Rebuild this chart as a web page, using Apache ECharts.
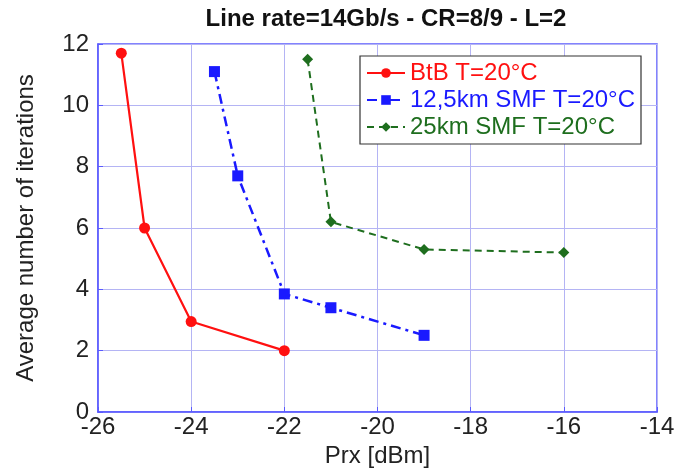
<!DOCTYPE html>
<html><head><meta charset="utf-8">
<script src="https://cdn.jsdelivr.net/npm/echarts@6/dist/echarts.min.js"></script>
<style>html,body{margin:0;padding:0;background:#fff}#c{width:688px;height:470px}</style>
</head><body><div id="c"></div>
<script>
const btbX = [-25.5, -25, -24, -22];
const btbY = [11.7, 6.0, 2.95, 2.0];
const smf12X = [-23.5, -23, -22, -21, -19];
const smf12Y = [11.1, 7.7, 3.85, 3.4, 2.5];
const smf25X = [-21.5, -21, -19, -16];
const smf25Y = [11.5, 6.2, 5.3, 5.2];
const names = ['BtB T=20°C', '12,5km SMF T=20°C', '25km SMF T=20°C'];
const colors = ['#ff1010', '#1a1aff', '#1e6e1e'];
const pair = (xs, ys) => xs.map((x, i) => [x, ys[i]]);
const FONT = 'Liberation Sans, Arial, sans-serif';
const FS = 24;
const chart = echarts.init(document.getElementById('c'), null, {renderer: 'canvas'});
chart.setOption({
  animation: false,
  title: {text: 'Line rate=14Gb/s - CR=8/9 - L=2', left: 381, textAlign: 'center', top: 2,
    textStyle: {fontFamily: FONT, fontSize: 24, fontWeight: 'bold', color: '#111'}},
  grid: {left: 98, right: 31, top: 44, bottom: 58, show: true, borderColor: '#5a5aff', borderWidth: 1.5,
    outerBoundsMode: 'none', containLabel: false},
  legend: {orient: 'vertical', left: 360, top: 56, width: 285, height: 92,
    backgroundColor: '#fff', borderColor: '#333', borderWidth: 1.2,
    padding: [5, 6, 5, 6], itemGap: 3, itemWidth: 38, itemHeight: 12,
    textStyle: {fontFamily: FONT, fontSize: FS},
    data: names.map((n, i) => ({name: n, textStyle: {color: colors[i]}}))},
  xAxis: {type: 'value', min: -26, max: -14, interval: 2,
    name: 'Prx [dBm]', nameLocation: 'middle', nameGap: 30,
    nameTextStyle: {fontFamily: FONT, fontSize: FS, color: '#222'},
    axisLine: {show: true, lineStyle: {color: '#5a5aff', width: 1.5}},
    axisTick: {show: true, inside: true, length: 5, lineStyle: {color: '#5a5aff'}},
    axisLabel: {fontFamily: FONT, fontSize: FS, color: '#222', margin: 3},
    splitLine: {show: true, lineStyle: {color: '#b4b4f4', width: 1}}},
  yAxis: {type: 'value', min: 0, max: 12, interval: 2,
    name: 'Average number of iterations', nameLocation: 'middle', nameGap: 60, nameRotate: 90,
    nameTextStyle: {fontFamily: FONT, fontSize: FS, color: '#222'},
    axisLine: {show: true, lineStyle: {color: '#5a5aff', width: 1.5}},
    axisTick: {show: true, inside: true, length: 5, lineStyle: {color: '#5a5aff'}},
    axisLabel: {fontFamily: FONT, fontSize: FS, color: '#222', margin: 9},
    splitLine: {show: true, lineStyle: {color: '#b4b4f4', width: 1}}},
  series: [
    {name: names[0], type: 'line', data: pair(btbX, btbY), symbol: 'circle', symbolSize: 11,
      itemStyle: {color: colors[0]}, lineStyle: {color: colors[0], width: 2.2}},
    {name: names[1], type: 'line', data: pair(smf12X, smf12Y), symbol: 'rect', symbolSize: 11,
      itemStyle: {color: colors[1]}, lineStyle: {color: colors[1], width: 2.5, type: [10, 5, 3, 5]}},
    {name: names[2], type: 'line', data: pair(smf25X, smf25Y), symbol: 'diamond', symbolSize: 11,
      itemStyle: {color: colors[2]}, lineStyle: {color: colors[2], width: 2, type: [7, 5]}}
  ]
});
</script></body></html>
